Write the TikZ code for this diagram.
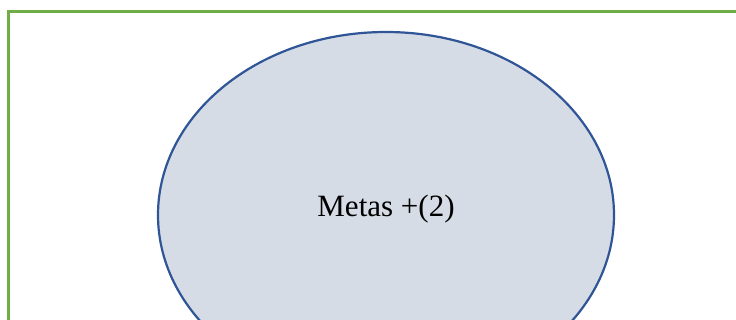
\documentclass[tikz,border=0pt]{standalone}
\usepackage{fontspec}
\setmainfont{Liberation Serif}
\usetikzlibrary{shapes.geometric}

\definecolor{framegreen}{RGB}{112,173,71}
\definecolor{metaedge}{RGB}{47,85,151}
\definecolor{metafill}{RGB}{214,220,229}

\begin{document}
\begin{tikzpicture}[
  x=1pt, y=-1pt,
  frame/.style={draw=framegreen, line width=2.5pt},
  meta/.style={ellipse, draw=metaedge, line width=2.2pt, fill=metafill,
    minimum width=456pt, minimum height=366pt, inner sep=0pt},
  lbl/.style={font=\fontsize{31}{36}\selectfont},
]
\useasboundingbox (0,0) rectangle (736,320);
\clip (0,0) rectangle (736,320);
\coordinate (fbl) at (8.5,340);
\coordinate (ftl) at (8.5,11.5);
\coordinate (ftr) at (760,11.5);
\draw[frame] (fbl) -- (ftl) -- (ftr);
\node[meta] (metas) at (386,215) {};
\node[lbl] (metastxt) at (386,209) {Metas +(2)};
\end{tikzpicture}
\end{document}
